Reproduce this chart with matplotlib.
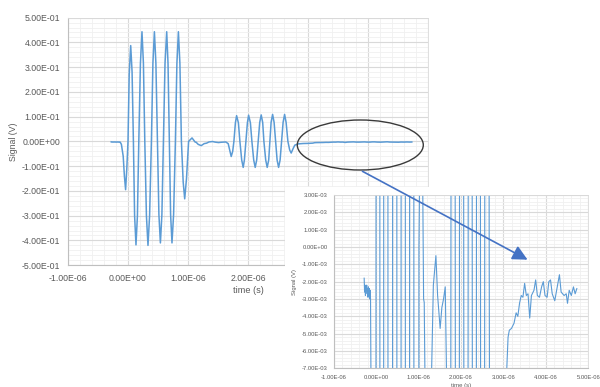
import matplotlib
matplotlib.use("Agg")
import matplotlib.pyplot as plt
import numpy as np
from matplotlib.patches import Ellipse, Rectangle, FancyArrowPatch
from matplotlib.ticker import FuncFormatter, MultipleLocator

plt.rcParams['font.family'] = ['Liberation Sans', 'DejaVu Sans']

# time in microseconds, signal in millivolts
t_us = [-0.28, -0.27, -0.26, -0.25, -0.24, -0.23, -0.22, -0.21, -0.20, -0.19, -0.18, -0.17, -0.16, -0.15, -0.14, -0.13,
        -0.11, -0.08, -0.06, -0.04, -0.02, 0.00, 0.02, 0.045, 0.068, 0.09, 0.11, 0.133, 0.157, 0.18,
        0.207, 0.233, 0.257, 0.28, 0.307, 0.333, 0.36, 0.39, 0.415, 0.44, 0.465, 0.49,
        0.515, 0.54, 0.565, 0.59, 0.617, 0.645, 0.667, 0.69, 0.71, 0.733, 0.76, 0.79,
        0.815, 0.84, 0.865, 0.89, 0.92, 0.945, 0.975, 1.01, 1.067,
        1.12, 1.135, 1.17, 1.22, 1.27, 1.31, 1.35, 1.41, 1.45, 1.51, 1.55, 1.59, 1.63, 1.67, 1.72,
        1.745, 1.765, 1.79, 1.81, 1.84, 1.865, 1.895, 1.92, 1.94, 1.965, 1.99, 2.01, 2.04, 2.065,
        2.095, 2.12, 2.145, 2.17, 2.195, 2.22, 2.245, 2.265, 2.295, 2.32, 2.345, 2.365,
        2.385, 2.41, 2.435, 2.46, 2.485, 2.51, 2.535, 2.56, 2.585, 2.61, 2.635, 2.665, 2.695, 2.72, 2.75,
        2.78, 2.84, 2.92, 3.00, 3.08, 3.11, 3.14, 3.19, 3.25, 3.30, 3.34, 3.38, 3.42, 3.46, 3.50,
        3.54, 3.58, 3.62, 3.66, 3.72, 3.76, 3.80, 3.85, 3.90, 3.94, 3.98, 4.03, 4.07, 4.11, 4.15, 4.21,
        4.27, 4.32, 4.36, 4.43, 4.48, 4.51, 4.55, 4.60, 4.65, 4.69, 4.73]
v_mV = [-1.8, -2.6, -2.2, -2.8, -2.3, -2.5, -2.2, -2.7, -2.4, -2.9, -2.3, -2.6, -2.4, -3.0, -2.5, -3.0,
        -12, -60, -140, -195, -110, 0, 270, 387, 280, 0, -300, -418, -300, 0,
        315, 443, 315, 0, -300, -420, -300, 0, 315, 443, 315, 0,
        -295, -410, -295, 0, 315, 443, 315, 0, -295, -410, -295, 0,
        315, 443, 315, 0, -165, -232, -150, 0, 14,
        -3.0, -3.2, -12, -17, -9, -7, -2.2, -0.5, -2.8, -4.7, -3.5, -3.0, -2.3, -9, -61,
        -40, 0, 75, 104, 75, 0, -75, -105, -75, 0, 75, 106, 75, 0,
        -75, -105, -75, 0, 76, 107, 76, 0, -75, -105, -75, 0,
        77, 109, 77, 0, -75, -105, -75, 0, 77, 109, 77, 0, -35, -47, -30,
        -15, -10, -8.5, -8, -7.0, -5.2, -4.8, -4.7, -4.4, -3.8, -4.0, -3.25, -2.8, -2.9, -2.1,
        -2.8, -2.7, -4.1, -2.8, -2.5, -1.9, -2.8, -2.9, -2.3, -2.0, -2.8, -2.9, -2.0, -1.9, -2.7, -3.1,
        -2.3, -1.6, -2.6, -2.8, -2.7, -3.25, -2.5, -2.8, -2.3, -2.7, -2.4]

t = np.array(t_us) * 1e-6
v = np.array(v_mV) * 1e-3

line_col = '#5B9BD5'
txt_col = '#595959'


def sci_label(x, pos):
    if abs(x) < 1e-12:
        x = 0.0
    return f"{x:.2E}"


def excel_axes(ax, xmaj, xmin, ymaj, ymin, fs, xpad, ypad):
    ax.xaxis.set_major_locator(MultipleLocator(xmaj))
    ax.xaxis.set_minor_locator(MultipleLocator(xmin))
    ax.yaxis.set_major_locator(MultipleLocator(ymaj))
    ax.yaxis.set_minor_locator(MultipleLocator(ymin))
    ax.xaxis.set_major_formatter(FuncFormatter(sci_label))
    ax.yaxis.set_major_formatter(FuncFormatter(sci_label))
    ax.grid(which='major', color='#d9d9d9', lw=0.8)
    ax.grid(which='minor', color='#f0f0f0', lw=0.6)
    ax.set_axisbelow(True)
    ax.tick_params(which='both', length=0, labelsize=fs, colors=txt_col)
    ax.tick_params(axis='x', pad=xpad)
    ax.tick_params(axis='y', pad=ypad)
    for s in ['top', 'right']:
        ax.spines[s].set_color('#d9d9d9')
        ax.spines[s].set_linewidth(0.6)
    for s in ['left', 'bottom']:
        ax.spines[s].set_color('#bfbfbf')
        ax.spines[s].set_linewidth(0.8)


fig = plt.figure(figsize=(6, 3.87), dpi=100)

# main chart
ax = fig.add_axes([68 / 600, 1 - 265.2 / 387, 360 / 600, 247.6 / 387])
ax.plot(t, v, color=line_col, lw=1.1)
ax.set_xlim(-1e-6, 5e-6)
ax.set_ylim(-0.5, 0.5)
excel_axes(ax, 1e-6, 0.2e-6, 0.1, 0.02, 6.3, 6.5, 5.5)
# labels right of 2E-06 sit under the zoomed chart
ax.xaxis.set_major_formatter(FuncFormatter(lambda x, pos: sci_label(x, pos) if x < 2.5e-6 else ''))
ax.set_xlabel('time (s)', fontsize=6.6, color=txt_col)
ax.xaxis.set_label_coords(0.5, -0.083)
ax.set_ylabel('Signal (V)', fontsize=6.3, color=txt_col)
ax.yaxis.set_label_coords(-0.138, 0.5)

# ellipse around the tail
ell = Ellipse((360.3 / 600, 1 - 145 / 387), 126 / 600, 50 / 387, transform=fig.transFigure,
              fill=False, edgecolor='#3a3a3a', lw=1.0, zorder=3)
fig.add_artist(ell)

# white box behind the zoomed chart
fig.add_artist(Rectangle((285 / 600, 0), 315 / 600, 1 - 187 / 387, transform=fig.transFigure,
                         facecolor='white', edgecolor='none', zorder=1.5))

# zoomed chart
ax2 = fig.add_axes([333.6 / 600, 1 - 368.3 / 387, 254.7 / 600, 173.3 / 387], zorder=2)
ax2.plot(t, v, color=line_col, lw=0.8)
ax2.set_xlim(-1e-6, 5e-6)
ax2.set_ylim(-7e-3, 3e-3)
excel_axes(ax2, 1e-6, 0.2e-6, 1e-3, 0.2e-3, 4.2, 4.5, 4.3)
ax2.set_xlabel('time (s)', fontsize=4.3, color=txt_col)
ax2.xaxis.set_label_coords(0.5, -0.085)
ax2.set_ylabel('Signal (V)', fontsize=4.2, color=txt_col)
ax2.yaxis.set_label_coords(-0.145, 0.5)

# arrow from ellipse to zoomed chart
arr = FancyArrowPatch((360 / 600, 1 - 170 / 387), (530 / 600, 1 - 261 / 387), transform=fig.transFigure,
                      arrowstyle='-|>,head_length=0.9,head_width=0.45', mutation_scale=10,
                      color='#4472C4', lw=1.2, zorder=4)
fig.add_artist(arr)

fig.savefig('out.png', dpi=100)
